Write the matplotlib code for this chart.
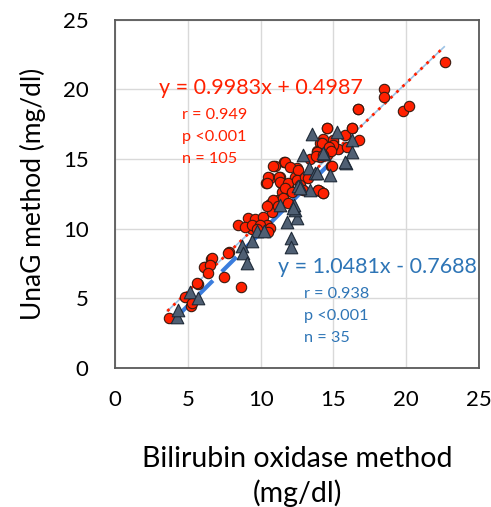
import matplotlib.pyplot as plt
import numpy as np

# Red circles: x = bilirubin oxidase, y = UnaG (n = 105 group)
circle_x = [22.66, 18.45, 18.45, 16.67, 19.76, 20.15, 14.58, 16.25, 16.76, 15.80,
            14.26, 14.10, 15.00, 14.77, 13.90, 14.08, 15.30, 14.84, 11.63, 11.00,
            12.48, 13.39, 10.62, 10.35, 11.33, 11.40, 11.90, 11.45, 12.36, 12.82,
            13.97, 14.26, 10.87, 11.26, 10.87, 11.22, 8.47, 9.16, 9.62, 10.19,
            10.42, 10.65, 9.38, 8.93, 7.85, 6.60, 6.18, 7.51, 8.65, 5.68,
            5.10, 5.22, 3.71, 14.08, 10.65, 11.00, 9.39, 9.96, 9.73, 10.53,
            7.78, 6.64, 10.76, 14.19, 14.88, 14.54, 11.68, 12.02, 12.59, 10.53,
            11.33, 10.42, 11.90, 12.48, 13.05, 11.68, 12.13, 13.96, 14.31, 10.87,
            11.56, 10.42, 11.90, 11.22, 13.28, 12.71, 12.94, 16.71, 14.54, 16.25,
            15.00, 15.00, 14.70, 13.85, 13.80, 14.80, 15.95, 14.30, 14.88, 6.14,
            5.60, 4.81, 5.27, 6.52, 6.41]
circle_y = [21.98, 20.00, 19.45, 18.63, 18.48, 18.82, 17.26, 17.22, 16.38, 16.74,
            16.43, 16.19, 16.26, 15.90, 15.59, 15.18, 15.71, 14.51, 14.82, 14.51,
            14.35, 14.99, 13.67, 13.27, 13.75, 13.30, 13.00, 12.67, 13.75, 13.62,
            12.79, 12.60, 14.51, 13.75, 11.71, 12.07, 10.27, 10.75, 10.68, 10.87,
            10.27, 10.03, 10.00, 10.15, 8.36, 7.83, 7.23, 6.56, 5.84, 6.00,
            5.12, 4.48, 3.57, 12.68, 11.78, 11.70, 10.27, 10.27, 9.96, 9.80,
            8.24, 7.88, 11.23, 16.14, 15.90, 15.30, 14.82, 14.46, 14.22, 13.75,
            13.39, 13.27, 13.27, 13.50, 13.75, 12.91, 12.67, 12.79, 12.60, 12.07,
            12.19, 11.60, 11.83, 11.60, 13.63, 13.15, 12.79, 18.60, 17.22, 17.22,
            16.38, 16.00, 15.90, 15.54, 15.20, 15.60, 15.90, 15.30, 14.47, 7.23,
            6.08, 5.12, 4.65, 7.40, 6.85]

# Grey triangles (n = 35 group)
tri_x = [13.55, 15.27, 16.25, 16.30, 15.87, 12.94, 14.35, 13.35, 14.77, 13.74,
         12.70, 13.39, 11.79, 12.48, 12.36, 12.30, 12.07, 12.09, 9.77, 10.26,
         9.39, 8.70, 8.81, 9.05, 5.15, 5.72, 4.24, 11.33, 12.59, 14.31,
         13.85, 12.25, 4.35, 12.71, 15.80]
tri_y = [16.81, 16.98, 16.38, 15.52, 14.70, 15.30, 15.37, 14.39, 13.86, 13.98,
         13.05, 12.79, 10.51, 10.75, 11.35, 11.70, 9.31, 8.72, 9.82, 9.82,
         9.10, 8.74, 8.24, 7.52, 5.48, 5.00, 3.69, 11.71, 13.05, 15.42,
         13.98, 11.47, 4.17, 12.91, 14.78]

red_fit = (0.9983, 0.4987, 3.6, 22.6)
blue_fit = (1.0481, -0.7688, 4.1, 16.1)

plt.rcParams["font.family"] = ["Lato", "DejaVu Sans"]

fig = plt.figure(figsize=(4.91, 5.07), dpi=100)
ax = fig.add_axes([0.234, 0.274, 0.742, 0.687])

ax.set_xlim(0, 25)
ax.set_ylim(0, 25)
ticks = [0, 5, 10, 15, 20, 25]
ax.set_xticks(ticks)
ax.set_yticks(ticks)
ax.tick_params(length=0, labelsize=16)
ax.tick_params(axis="y", pad=19)
ax.tick_params(axis="x", pad=16)
ax.grid(True, color="#d9d9d9", lw=1)
ax.set_axisbelow(True)
for s in ax.spines.values():
    s.set_color("#595959")
    s.set_linewidth(1.3)

# regression lines
a, b, x0, x1 = red_fit
lx = np.array([x0, x1])
ax.plot(lx, a * lx + b, color="#9dc3e6", lw=1.2, zorder=2)
ax.plot(lx, a * lx + b, color="#ff2000", lw=2, ls=(0, (1, 2)), zorder=2)
a, b, x0, x1 = blue_fit
lx = np.array([x0, x1])
ax.plot(lx, a * lx + b, color="#3b7ddd", lw=3, ls=(0, (5, 3)), zorder=2)

ax.scatter(circle_x, circle_y, s=56, marker="o", facecolor="#ff2000",
           edgecolor="#3a1a10", lw=0.8, zorder=3)
ax.scatter(tri_x, tri_y, s=82, marker="^", facecolor="#4f5f73",
           edgecolor="#1e2a38", lw=0.8, zorder=4)

# annotations
ax.text(3.0, 20.1, "y = 0.9983x + 0.4987", color="#ff2000", fontsize=15.5,
        va="center", ha="left")
ax.text(4.6, 16.6, "r = 0.949\np <0.001\nn = 105", color="#ff2000",
        fontsize=11.7, va="center", ha="left", linespacing=1.72)
ax.text(11.2, 7.28, "y = 1.0481x - 0.7688", color="#2e75b6", fontsize=15.5,
        va="center", ha="left")
ax.text(13.0, 3.75, "r = 0.938\np <0.001\nn = 35", color="#2e75b6",
        fontsize=11.7, va="center", ha="left", linespacing=1.72)

ax.set_xlabel("Bilirubin oxidase method\n(mg/dl)", fontsize=20.5, labelpad=26,
              linespacing=1.32)
ax.set_ylabel("UnaG method (mg/dl)", fontsize=19, labelpad=12)

fig.savefig("out.png", dpi=100)
